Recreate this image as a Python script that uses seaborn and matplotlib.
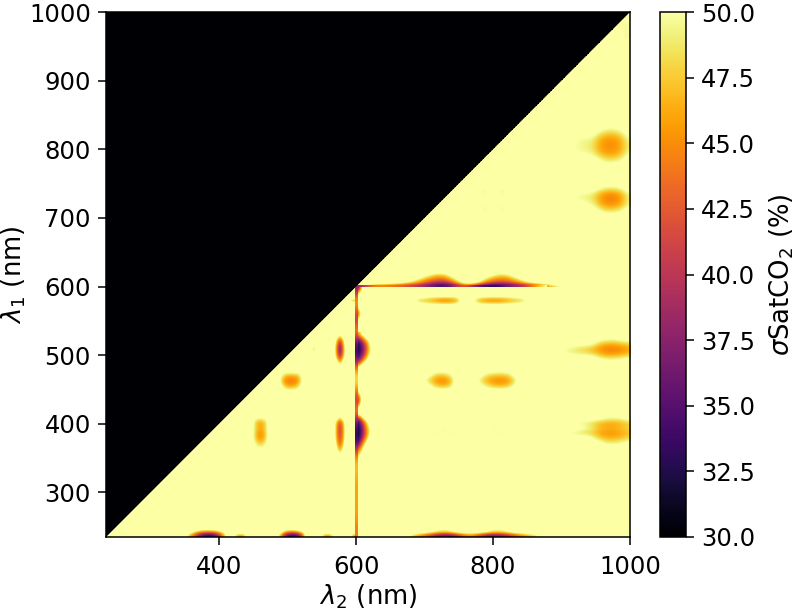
import numpy as np
import matplotlib
matplotlib.use('Agg')
import matplotlib.pyplot as plt
import seaborn as sns

# wavelengths (nm), one heatmap cell per nm
lam = np.arange(235, 1001)
sat_floor = 30
sat_ceil = 50
cbar_ticks = [30, 32.5, 35, 37.5, 40, 42.5, 45, 47.5, 50]
x_ticks = [400, 600, 800, 1000]
y_ticks = [300, 400, 500, 600, 700, 800, 900, 1000]

# values above the colour range: left see-through around each region
B = 54    # steep edge
S = 51.5  # soft edge

# regions: (lam2 from, lam2 to, lam1 from, lam1 to), rows go up in lam1
r_458 = (445, 475, 358, 414)
v_458 = [[S, S, 51, S, S],
         [S, 49.5, 48, 49.5, S],
         [S, 47, 45.5, 47, S],
         [S, 46.5, 45, 46.5, S],
         [S, 47.5, 46.5, 47.5, S],
         [S, 47, 45.5, 47, S],
         [S, S, S, S, S]]
r_538 = (528, 548, 495, 523)
v_538 = [[B, B, B, B, B],
         [B, 50, 49, 50, B],
         [B, 50, 49, 50, B],
         [B, B, B, B, B]]
r_577_up = (567, 587, 480, 532.5)
v_577_up = [[B, B, 52, B, B],
            [B, 50, 45, 50, B],
            [52, 45, 39, 45, 52],
            [52, 43, 36, 43, 52],
            [52, 44, 37.5, 44, 52],
            [B, 47, 42, 47, B],
            [B, B, 51, B, B]]
r_577_low = (567, 587, 350, 414)
v_577_low = [[B, B, 51, B, B],
             [B, 50, 46, 50, B],
             [B, 47, 43.5, 47, B],
             [52, 45, 42, 45, 52],
             [52, 44.5, 41, 44.5, 52],
             [52, 44.5, 41, 44.5, 52],
             [52, 45.5, 42, 45.5, 52],
             [B, B, 50, B, B]]
r_505 = (485, 525, 443.5, 478.5)
v_505 = [[S, S, S, S, S, S, S, S],
         [S, 50.5, 47.5, 46.5, 46.5, 47.5, 50, S],
         [S, 47, 44.5, 44, 44, 44.5, 47, S],
         [S, 49, 46, 45.5, 45.5, 46, 48, S],
         [S, S, S, S, S, S, S, S]]

# along the bottom edge
r_bot_390 = (344, 416, 235, 250)
v_bot_390 = [[B, 47, 42, 36, 33, 33, 36, 44, B],
             [B, B, 50, 47, 46, 46, 48, 51, B],
             [B, B, B, B, B, B, B, B, B]]
r_bot_430 = (416, 446, 235, 245)
v_bot_430 = [[B, 47, 45, 47, B],
             [B, B, B, B, B]]
r_bot_505 = (480, 530, 235, 250)
v_bot_505 = [[B, 46, 38, 34, 33, 35, 42, B],
             [B, B, 48, 46, 46, 48, 51, B],
             [B, B, B, B, B, B, B, B]]
r_bot_557 = (543, 573, 235, 245)
v_bot_557 = [[B, 47, 45, 47, B],
             [B, B, B, B, B]]
r_bot_597 = (588, 600, 235, 245)
v_bot_597 = [[B, 47, 45],
             [B, B, B]]
r_bot_r = (660, 890, 235, 245)
v_bot_r = [[B, 47, 43, 37, 34, 40, 46, 39, 35, 37, 42, 46, 49, B],
           [B, B, B, 50, 49, B, B, B, 49, 50, B, B, B, B]]

# right of lam2 = 600
r_600_510 = (600, 624, 478, 532)
v_600_510 = [[52, B, B, B],
             [42, 50, B, B],
             [36, 42, 50, B],
             [33, 38, 45, 52],
             [32, 36, 43, 51],
             [32, 36, 43, 51],
             [33, 38, 45, 52],
             [38, 44, 51, B],
             [45, 52, B, B]]
r_600_435 = (600, 612, 420, 450)
v_600_435 = [[50, B, B],
             [40, 50, B],
             [38, 47, B],
             [42, 50, B],
             [49, B, B]]
r_600_560 = (600, 612, 548, 572)
v_600_560 = [[50, B, B],
             [42, 50, B],
             [42, 50, B],
             [50, B, B]]
r_600_385 = (600, 624, 350, 416)
v_600_385 = [[48, B, B, B],
             [44, 52, B, B],
             [40, 48, B, B],
             [35, 44, 52, B],
             [32, 40, 48, B],
             [31, 38, 45, 52],
             [31, 37, 45, 51],
             [32, 38, 46, 52],
             [33, 40, 48, B],
             [38, 48, B, B],
             [51, B, B, B]]
r_600_590 = (600, 612, 586, 600)
v_600_590 = [[48, B, B],
             [42, 48, B],
             [34, 44, 52]]

# just above lam1 = 600
r_up_600 = (602.5, 902.5, 600, 624)
v_up_600 = [[48, 45, 43, 42, 41, 39, 37, 34, 33, 36, 44, 38, 33, 32, 34, 36, 39, 42, 46, 50],
            [B, B, B, 53, 50, 47, 43, 39, 38, 45, B, 51, 43, 40, 41, 44, 49, 52, B, B],
            [B, B, B, B, B, 50, 46, 43, 42.5, 49, B, B, 47, 44, 44, 48, 52, B, B, B],
            [B, B, B, B, B, B, 49, 45.5, 45.5, 52, B, B, 50, 46.5, 46.5, 51, B, B, B, B],
            [B, B, B, B, B, B, 52, 48.5, 48.5, B, B, B, B, 49, 49, B, B, B, B, B],
            [B, B, B, B, B, B, B, 52, 52, B, B, B, B, 52, 52, B, B, B, B, B]]

# lam1 = 580 row
r_580_left = (585, 600, 573, 585)
v_580_left = [[B, B, B, B],
              [B, 48, 46, 45],
              [B, B, B, B]]
r_580_727 = (678, 761, 567, 591)
v_580_727 = [[B, B, B, B, B, B, B, B, B, B, B],
             [B, 47, 46, 45, 44, 43, 42, 42, 43, 45, B],
             [B, B, B, B, B, B, B, B, B, B, B]]
r_580_803 = (762, 858, 567, 591)
v_580_803 = [[B, B, B, B, B, B, B, B, B, B, B, B],
             [B, 47, 44, 43, 42.5, 42.5, 43, 44, 45, 46, 47, B],
             [B, B, B, B, B, B, B, B, B, B, B, B]]

# lam1 = 460 row
r_460_727 = (692.5, 748.5, 445.5, 480.5)
v_460_727 = [[S, S, S, S, S, S, S, S],
             [S, S, 50, 47.5, 46.5, 46.5, 48.5, S],
             [S, 49, 47, 45.5, 45, 45, 46.5, S],
             [S, S, 50, 47.5, 47, 47.5, 49.5, S],
             [S, S, S, S, S, S, S, S]]
r_460_803 = (770, 842, 445.5, 480.5)
v_460_803 = [[S, S, S, S, S, S, S, S, S],
             [S, 51, 49, 47.5, 46.5, 46.5, 47.5, 50, S],
             [S, 48.5, 46.5, 45.5, 45, 45, 45.5, 47.5, S],
             [S, 51, 49, 47.5, 47, 47, 48, 50.5, S],
             [S, S, S, S, S, S, S, S, S]]

# lam2 = 965 column
r_965_510 = (890, 1000, 485.5, 534.5)
v_965_510 = [[S, S, S, S, S, S, S, S, S, S, S],
             [S, S, S, S, S, S, 49.5, 48.5, 48.5, 49, 50],
             [50.5, 49.8, 49.2, 48.8, 48.3, 47.5, 46, 45, 45, 45.5, 46.5],
             [50.5, 49.8, 49.2, 48.5, 48, 47, 45.5, 44.5, 44.5, 45, 46],
             [S, S, S, S, S, 51, 48, 47, 47, 47.5, 48.5],
             [S, S, S, S, S, S, S, 51, 50.5, S, S],
             [S, S, S, S, S, S, S, S, S, S, S]]
r_965_385 = (900, 1000, 361.5, 417.5)
v_965_385 = [[S, S, S, S, S, S, S, S, S, S],
             [S, S, S, S, S, 51, 49, 49, 49.5, 50.5],
             [S, S, S, S, 50, 47.5, 46.5, 46.5, 47, 48],
             [49.8, 49, 48.5, 48, 47.5, 46, 45.5, 45.5, 46, 47],
             [S, S, 51, 50, 49, 47, 46.5, 46.5, 47, 48],
             [50.5, 49.8, 49.3, 49, 48, 46.5, 46, 46, 46.5, 47.5],
             [S, S, S, S, S, 51, 50, 49.5, 50, 51],
             [S, S, S, S, S, S, S, S, S, S]]
r_965_805 = (900, 1000, 770, 840)
v_965_805 = [[S, S, S, S, S, S, S, S, S, S],
             [S, S, S, S, S, 50, 48.5, 48.5, 49.5, S],
             [51, 50.3, 49.8, 49.5, 49, 46.5, 45.5, 45.5, 46.5, 49.5],
             [50.5, 50, 49.6, 49.2, 48.5, 46, 45, 45, 46, 49],
             [51, 50.3, 49.8, 49.5, 49.3, 46.5, 45.5, 45.5, 46.5, 49.5],
             [S, S, S, S, S, 50, 48.5, 48.5, 49.5, S],
             [S, S, S, S, S, S, S, S, S, S]]
r_965_729 = (900, 1000, 698, 754)
v_965_729 = [[S, S, S, S, S, S, S, S, S, S],
             [S, S, S, S, S, 50, 48.5, 48.5, 49.5, S],
             [S, S, S, 50.5, 50, 47, 45.5, 45.5, 46.5, 49.5],
             [50.5, 50, 49.6, 49.2, 48.5, 46, 44.5, 44.5, 45.5, 49],
             [51, 50.3, 49.8, 49.5, 49, 46.5, 45, 45, 46, 49.5],
             [S, S, S, S, S, 50.5, 49, 49, 50, S],
             [S, S, S, S, S, S, S, S, S, S]]

# the two thin lines at lam = 600
r_col_600 = (598.5, 602, 235, 600)
v_col_600 = [[44], [45], [46], [46], [46], [46], [47], [47], [42], [34], [33], [36], [46],
             [40], [44], [49], [47], [38], [33], [36], [46], [40], [42], [47], [38]]
r_row_600 = (600, 900, 599.5, 601.5)
v_row_600 = [[38, 44, 45, 44, 43, 41, 39, 36, 34, 38, 44, 38, 34, 33, 36, 38, 41, 46, 50, 54]]

# faint marks, barely under the top of the scale
r_faint_727 = (715, 740, 375, 395)
v_faint_727 = [[50.5, 49.6, 50.5],
               [49.6, 50.2, 49.6],
               [50.5, 49.6, 50.5]]
r_faint_803 = (790, 815, 375, 395)
v_faint_803 = [[50.5, 49.6, 50.5],
               [49.6, 50.2, 49.6],
               [50.5, 49.6, 50.5]]
r_faint_x = (785, 815, 710, 740)
v_faint_x = [[49.7, 50.5, 49.7],
             [50.5, 49.7, 50.5],
             [49.7, 50.5, 49.7]]
r_faint_top = (965, 1000, 960, 1000)
v_faint_top = [[50.5, 50.5, 49.7],
               [50.5, 49.6, 49.7],
               [49.7, 49.7, 50.5]]

regions = [(r_458, v_458), (r_538, v_538), (r_577_up, v_577_up), (r_577_low, v_577_low),
           (r_505, v_505), (r_bot_390, v_bot_390), (r_bot_430, v_bot_430), (r_bot_505, v_bot_505),
           (r_bot_557, v_bot_557), (r_bot_597, v_bot_597), (r_bot_r, v_bot_r),
           (r_600_510, v_600_510), (r_600_435, v_600_435), (r_600_560, v_600_560),
           (r_600_385, v_600_385), (r_600_590, v_600_590), (r_up_600, v_up_600),
           (r_580_left, v_580_left), (r_580_727, v_580_727), (r_580_803, v_580_803),
           (r_460_727, v_460_727), (r_460_803, v_460_803), (r_965_510, v_965_510),
           (r_965_385, v_965_385), (r_965_805, v_965_805), (r_965_729, v_965_729),
           (r_col_600, v_col_600), (r_row_600, v_row_600), (r_faint_727, v_faint_727),
           (r_faint_803, v_faint_803), (r_faint_x, v_faint_x), (r_faint_top, v_faint_top)]


def pos(w):
    # heatmap cell i is centred on i + 0.5
    return np.asarray(w) - lam[0] + 0.5


plt.rcParams['font.size'] = 17.5
plt.rcParams['axes.labelsize'] = 18.6
plt.rcParams['axes.linewidth'] = 1.1
plt.rcParams['xtick.major.size'] = 5.8
plt.rcParams['ytick.major.size'] = 5.8
plt.rcParams['xtick.major.width'] = 1.1
plt.rcParams['ytick.major.width'] = 1.1
plt.rcParams['xtick.major.pad'] = 7
plt.rcParams['ytick.major.pad'] = 5

cmap = sns.color_palette('inferno', as_cmap=True).copy()
cmap.set_over((0, 0, 0, 0))

fig = plt.figure(figsize=(8, 6.16), dpi=100)
ax = fig.add_axes([106 / 800, 79 / 616, 524 / 800, 525 / 616])
cax = fig.add_axes([660 / 800, 79 / 616, 26 / 800, 525 / 616])

# everything above the diagonal sits at the bottom of the scale
base = np.where(lam[:, None] > lam[None, :], sat_floor, sat_ceil)
sns.heatmap(base, ax=ax, cbar_ax=cax, cmap=cmap, vmin=sat_floor, vmax=sat_ceil,
            xticklabels=False, yticklabels=False,
            cbar_kws={'ticks': cbar_ticks, 'label': r'$\sigma$SatCO$_2$ (%)'})

for r, v in regions:
    ax.imshow(np.array(v, dtype=float), cmap=cmap, vmin=sat_floor, vmax=sat_ceil,
              origin='lower', aspect='auto', interpolation='bicubic',
              interpolation_stage='data',
              extent=(pos(r[0]), pos(r[1]), pos(r[2]), pos(r[3])), zorder=3)

# smooth out the stairs of the 1 nm cells along the diagonal
lo, hi = pos(lam[0]), pos(lam[-1])
ax.fill([lo, lo, hi], [lo, hi, hi], color=cmap(0.0), lw=0, zorder=4)

ax.set_xlim(lo, hi)
ax.set_ylim(lo, hi)
ax.set_xticks(pos(x_ticks))
ax.set_xticklabels(x_ticks, rotation=0)
ax.set_yticks(pos(y_ticks))
ax.set_yticklabels(y_ticks, rotation=0)
ax.set_xlabel(r'$\lambda_2$ (nm)', labelpad=3)
ax.set_ylabel(r'$\lambda_1$ (nm)', labelpad=1)
for s in ax.spines.values():
    s.set_visible(True)
    s.set_zorder(5)

cb = ax.collections[0].colorbar
cb.outline.set_linewidth(1.1)
cb.outline.set_visible(True)
cb.ax.yaxis.labelpad = 9

fig.savefig('out.png', dpi=100)
